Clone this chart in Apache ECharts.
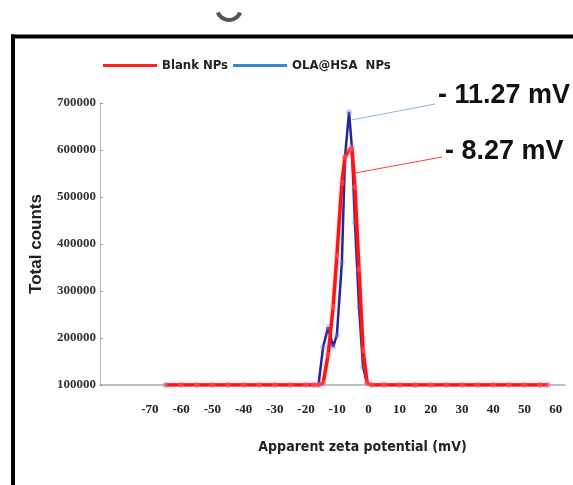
<!DOCTYPE html>
<html>
<head>
<meta charset="utf-8">
<script src="https://cdn.jsdelivr.net/npm/echarts@6.0.0/dist/echarts.min.js"></script>
<style>
  html, body { margin: 0; padding: 0; background: #fff; }
  #chart { width: 573px; height: 485px; }
</style>
</head>
<body>
<div id="chart"></div>
<script>
// zeta potential (mV) sample points, shared by both series
const zeta = [
	-65, -60, -55, -50, -45, -40, -35, -30, -25, -20, -17.5,
	-16, -14.5, -12.9, -11.3, -10.1, -8.5, -7.5, -6.2, -5.3, -4.3, -3.0, -1.7, -0.4,
	1, 5, 10, 15, 20, 25, 30, 35, 40, 45, 50, 55, 57.5
]
// total counts
const blankNPs = [
	100000, 100000, 100000, 100000, 100000, 100000, 100000, 100000, 100000, 100000, 100000,
	100000, 104000, 164000, 266000, 374000, 530000, 585000, 600000, 604000, 521000, 345000, 174000, 104000,
	100000, 100000, 100000, 100000, 100000, 100000, 100000, 100000, 100000, 100000, 100000, 100000, 100000
]
const olaNPs = [
	100000, 100000, 100000, 100000, 100000, 100000, 100000, 100000, 100000, 100000, 100000,
	100000, 181000, 223000, 181000, 206000, 360000, 585000, 681000, 606000, 445000, 266000, 138000, 104000,
	100000, 100000, 100000, 100000, 100000, 100000, 100000, 100000, 100000, 100000, 100000, 100000, 100000
]
const xTicks = [-70, -60, -50, -40, -30, -20, -10, 0, 10, 20, 30, 40, 50, 60]
const seriesNames = ['Blank NPs', 'OLA@HSA  NPs']
const peakNotes = ['- 8.27 mV', '- 11.27 mV']

const narrow = '"Liberation Sans Narrow", "DejaVu Sans Condensed", "Arial Narrow", sans-serif'
const serif = '"Liberation Serif", "Times New Roman", serif'

const pairs = (ys) => zeta.map((x, i) => [x, ys[i]])

const chart = echarts.init(document.getElementById('chart'))
const option = {
	animation: false,
	grid: { left: 100, right: 8, top: 103, bottom: 100 },
	legend: {
		left: 98,
		top: 54,
		icon: 'rect',
		itemWidth: 54,
		itemHeight: 3,
		itemGap: 5,
		textStyle: { fontFamily: narrow, fontSize: 13, fontWeight: 'bold', color: '#222' },
		data: [
			{ name: seriesNames[0], itemStyle: { color: '#ff2424' } },
			{ name: seriesNames[1], itemStyle: { color: '#3a86d6' } }
		]
	},
	xAxis: {
		type: 'value',
		min: -86,
		max: 63,
		name: 'Apparent zeta potential (mV)',
		nameLocation: 'middle',
		nameGap: 55,
		nameTextStyle: {
			fontFamily: narrow, fontSize: 14, fontWeight: 'bold', color: '#222',
			padding: [0, 0, 0, 60]
		},
		axisLine: { onZero: false, lineStyle: { color: '#aaaaaa', width: 1.5 } },
		axisTick: { show: false },
		splitLine: { show: false },
		axisLabel: {
			customValues: xTicks,
			margin: 18,
			fontFamily: serif,
			fontSize: 13,
			fontWeight: 'bold',
			color: '#222'
		}
	},
	yAxis: {
		type: 'value',
		min: 100000,
		max: 700000,
		interval: 100000,
		name: 'Total counts',
		nameLocation: 'middle',
		nameGap: 55,
		nameTextStyle: { fontFamily: 'Liberation Sans, Arial, sans-serif', fontSize: 17, fontWeight: 'bold', color: '#222' },
		axisLine: { show: true, onZero: false, lineStyle: { color: '#b8b8b8', width: 1 } },
		axisTick: { show: true, inside: true, length: 3, lineStyle: { color: '#999' } },
		splitLine: { show: false },
		axisLabel: {
			margin: 4,
			fontFamily: serif,
			fontSize: 13,
			fontWeight: 'bold',
			color: '#333',
			formatter: (v) => String(v)
		}
	},
	series: [
		{
			name: seriesNames[1],
			type: 'line',
			data: pairs(olaNPs),
			z: 2,
			symbol: 'circle',
			symbolSize: 6,
			showAllSymbol: true,
			itemStyle: { color: 'rgba(120,130,255,0.35)', borderWidth: 0 },
			lineStyle: { color: '#23259a', width: 2.5 },
			markLine: {
				silent: true,
				symbol: 'none',
				label: { show: false },
				lineStyle: { color: '#86b6e6', width: 1, type: 'solid' },
				data: [[{ coord: [-5.3, 664000] }, { x: 435, y: 104 }]]
			}
		},
		{
			name: seriesNames[0],
			type: 'line',
			data: pairs(blankNPs),
			z: 3,
			symbol: 'circle',
			symbolSize: 6,
			showAllSymbol: true,
			itemStyle: { color: 'rgba(255,120,140,0.35)', borderWidth: 0 },
			lineStyle: { color: '#ff1414', width: 3.5, shadowColor: 'rgba(255,60,60,0.3)', shadowBlur: 3 },
			markLine: {
				silent: true,
				symbol: 'none',
				label: { show: false },
				lineStyle: { color: '#ff3a3a', width: 1, type: 'solid' },
				data: [[{ coord: [-4.3, 551000] }, { x: 442, y: 157 }]]
			}
		}
	],
	graphic: [
		// frame of the source panel
		{ type: 'line', shape: { x1: 13, y1: 34.5, x2: 13, y2: 485 }, style: { stroke: '#000', lineWidth: 4 } },
		{ type: 'line', shape: { x1: 11, y1: 36.5, x2: 573, y2: 36.5 }, style: { stroke: '#000', lineWidth: 4 } },
		// cropped panel letter
		{ type: 'arc', shape: { cx: 229, cy: 8, r: 12, startAngle: Math.PI * 0.12, endAngle: Math.PI * 0.88 }, style: { stroke: '#555', lineWidth: 4, fill: null } },
		{ type: 'text', left: 438, top: 82, style: { text: peakNotes[1], font: 'bold 27px "Liberation Sans", Arial, sans-serif', fill: '#111' } },
		{ type: 'text', left: 445, top: 138, style: { text: peakNotes[0], font: 'bold 27px "Liberation Sans", Arial, sans-serif', fill: '#111' } }
	]
}
chart.setOption(option)
</script>
</body>
</html>
